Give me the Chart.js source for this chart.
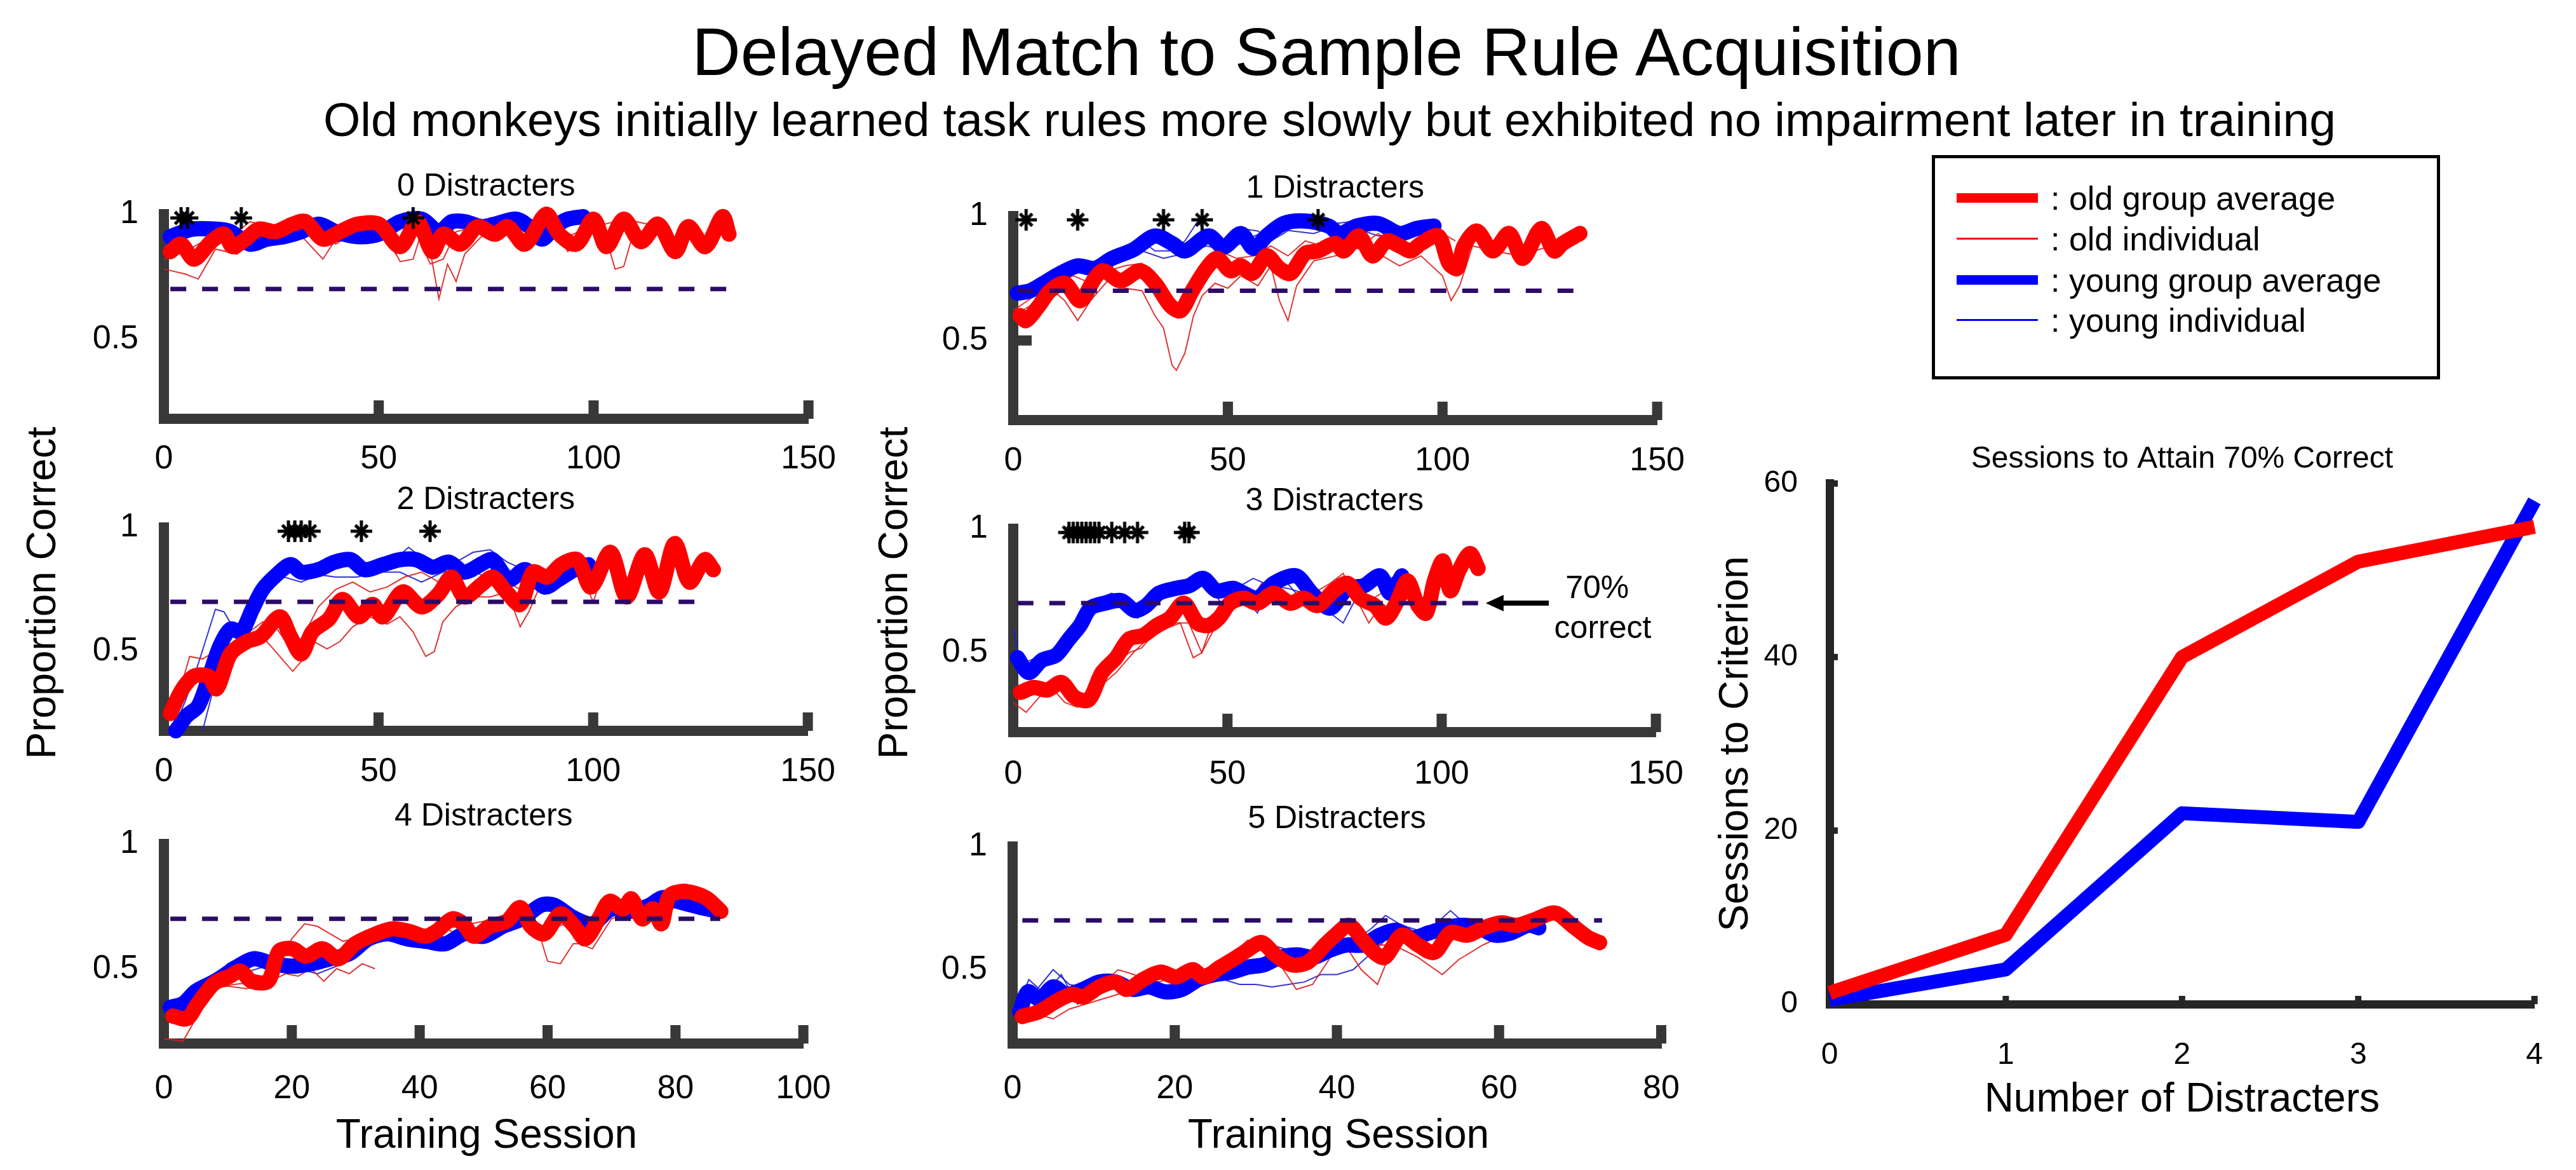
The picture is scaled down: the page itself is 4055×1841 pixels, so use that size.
<!DOCTYPE html>
<html>
<head>
<meta charset="utf-8">
<title>Delayed Match to Sample Rule Acquisition</title>
<script src="https://cdn.jsdelivr.net/npm/chart.js@4.4.1/dist/chart.umd.min.js"></script>
<style>
  html, body { margin: 0; padding: 0; background: #fff; }
  body { position: relative; width: 4055px; height: 1841px; overflow: hidden; font-family: 'Liberation Sans', Arial, sans-serif; color: #000; }
  .txt { position: absolute; white-space: nowrap; line-height: 1; }
  .rot { transform: translate(-50%, -50%) rotate(-90deg); }
  canvas { position: absolute; }
  #legend { position: absolute; left: 3041px; top: 244px; width: 800px; height: 353px; border: 5px solid #000; box-sizing: border-box; }
  .swatch { position: absolute; left: 34px; width: 128px; }
  .lbl { position: absolute; left: 182px; font-size: 52px; line-height: 1; white-space: nowrap; }
</style>
</head>
<body>
<div class="txt" style="left:88px;width:4000px;text-align:center;top:28px;font-size:106px">Delayed Match to Sample Rule Acquisition</div>
<div class="txt" style="left:93px;width:4000px;text-align:center;top:151px;font-size:75px">Old monkeys initially learned task rules more slowly but exhibited no impairment later in training</div>

<div class="txt rot" style="left:65px;top:933px;font-size:64px">Proportion Correct</div>
<div class="txt rot" style="left:1406px;top:933px;font-size:64px">Proportion Correct</div>
<div class="txt" style="left:766px;top:1752px;font-size:64px;transform:translateX(-50%)">Training Session</div>
<div class="txt" style="left:2107px;top:1752px;font-size:64px;transform:translateX(-50%)">Training Session</div>

<div id="legend">
  <div class="swatch" style="top:54.5px;height:15px;background:#ff0000"></div>
  <div class="lbl" style="top:36.5px">: old group average</div>
  <div class="swatch" style="top:124.5px;height:3px;background:#ff0000"></div>
  <div class="lbl" style="top:100.5px">: old individual</div>
  <div class="swatch" style="top:183.5px;height:15px;background:#0000ff"></div>
  <div class="lbl" style="top:165.5px">: young group average</div>
  <div class="swatch" style="top:252.5px;height:3px;background:#0000ff"></div>
  <div class="lbl" style="top:228.5px">: young individual</div>
</div>

<script>
// values: [training session, proportion correct]
const critLevel = 0.7
const starLevel = 0.985

// 0 distracters
const oldAvg0 = [[1.5,0.85],[4,0.88],[7,0.82],[11,0.89],[14,0.92],[16,0.87],[19,0.9],[22,0.94],[26,0.93],[30,0.96],[33,0.97],[37,0.9],[41,0.93],[45,0.96],[50,0.96],[55,0.87],[59,0.97],[62.5,0.85],[65,0.92],[69,0.88],[73,0.95],[77,0.92],[80,0.95],[84,0.88],[89,1.0],[92,0.92],[96,0.88],[100,0.98],[103,0.87],[107,0.98],[111,0.89],[115,0.96],[119,0.85],[122,0.95],[126,0.87],[130,0.99],[131.5,0.92]]
const youngAvg0 = [[1.5,0.91],[6.6,0.94],[12,0.94],[15.5,0.93],[20,0.88],[24,0.9],[28,0.91],[32,0.93],[36,0.96],[40,0.93],[45,0.91],[50,0.92],[55,0.97],[60,0.98],[64,0.93],[67,0.97],[70,0.97],[74,0.95],[77,0.96],[82,0.98],[85,0.95],[88,0.9],[91,0.95],[94,0.98],[97.6,0.99]]
const oldInd0 = [
  [[0,0.78],[5,0.76],[8,0.74],[12,0.86],[17,0.84],[20,0.88],[25,0.93],[30,0.95],[37,0.82],[40,0.9],[45,0.93],[52,0.9],[55,0.81],[58,0.82],[60,0.93],[62,0.85],[64,0.66],[66,0.8],[68,0.73],[70,0.84],[75,0.93],[85,0.92],[90,0.96],[94,0.85],[98,0.92],[102,0.96],[105,0.78],[107,0.79],[110,0.97],[115,0.95],[118,0.91],[124,0.9]],
  [[0,0.82],[5,0.85],[10,0.9],[15,0.9],[20,0.97],[25,0.95],[30,0.97],[35,0.96],[40,0.88],[45,0.94],[50,0.97],[54,0.84],[58,0.95],[62,0.8],[65,0.82],[68,0.93],[75,0.96],[85,0.95],[92,0.9],[100,0.95],[105,0.97],[110,0.94]]
]
const youngInd0 = [
  [[0,0.88],[5,0.92],[10,0.95],[15,0.91],[20,0.93],[25,0.92],[30,0.94],[35,0.93],[40,0.89],[45,0.9],[50,0.94],[55,0.97],[60,0.96],[65,0.95],[70,0.97],[75,0.94],[80,0.96],[85,0.95],[90,0.93],[95,0.96]]
]
const stars0 = [4, 5.5, 18, 58]
const critSpan0 = [1.5, 131]

// 1 distracter
const oldAvg1 = [[1.6,0.6],[3,0.58],[6,0.64],[8.6,0.7],[12,0.73],[15.6,0.66],[19,0.75],[21,0.78],[25,0.74],[29.6,0.78],[33,0.73],[36.6,0.64],[39,0.62],[41.7,0.7],[45,0.79],[47.5,0.83],[50.6,0.78],[53,0.8],[55.7,0.77],[59,0.84],[62,0.79],[64.6,0.77],[68,0.85],[71,0.86],[75,0.89],[77,0.86],[80.5,0.92],[83.7,0.84],[87,0.9],[90,0.88],[92.6,0.86],[95,0.89],[99,0.92],[101.5,0.81],[103.4,0.79],[105,0.88],[108,0.94],[111.7,0.86],[115.5,0.93],[118.7,0.83],[123,0.95],[126,0.86],[128,0.89],[132,0.93]]
const youngAvg1 = [[1,0.69],[4,0.7],[8,0.74],[11,0.77],[15,0.8],[19,0.79],[23,0.83],[28,0.865],[33,0.92],[37,0.89],[40,0.86],[45.5,0.92],[49,0.875],[53,0.93],[56,0.87],[59,0.92],[63,0.97],[68,0.98],[73.5,0.96],[76,0.93],[80,0.96],[85,0.97],[90,0.93],[94,0.95],[98,0.96]]
const oldInd1 = [
  [[0,0.62],[5,0.68],[8,0.72],[12,0.66],[15,0.58],[18,0.66],[22,0.74],[26,0.71],[30,0.7],[33,0.6],[35,0.55],[37,0.4],[38,0.38],[40,0.45],[42,0.6],[44,0.68],[47,0.73],[50,0.71],[53,0.76],[57,0.72],[60,0.8],[62,0.66],[64,0.58],[66,0.72],[70,0.82],[75,0.84],[80,0.87],[85,0.85],[90,0.8],[95,0.84],[100,0.76],[102,0.66],[104,0.72],[107,0.88],[112,0.86],[118,0.84],[125,0.88]],
  [[0,0.6],[5,0.65],[10,0.73],[14,0.76],[18,0.73],[22,0.78],[26,0.8],[30,0.81],[33,0.72],[36,0.62],[40,0.63],[44,0.78],[48,0.86],[52,0.83],[56,0.84],[60,0.88],[64,0.84],[68,0.9],[72,0.88],[76,0.85],[80,0.87],[85,0.93],[90,0.86],[95,0.9],[100,0.93],[103,0.9]]
]
const youngInd1 = [
  [[0,0.68],[5,0.71],[10,0.76],[15,0.8],[20,0.8],[25,0.86],[30,0.9],[33,0.86],[37,0.86],[40,0.9],[43,0.98],[46,0.9],[50,0.9],[53,0.95],[57,0.94],[60,0.9],[63,0.93],[67,0.98],[70,0.97],[75,0.97],[80,0.98],[85,0.95],[90,0.94],[95,0.96],[99,0.98]],
  [[0,0.7],[5,0.72],[10,0.79],[15,0.79],[20,0.82],[25,0.84],[30,0.86],[35,0.83],[40,0.85],[45,0.88],[50,0.86],[55,0.91],[60,0.95],[65,0.94],[70,0.93],[75,0.96],[80,0.95],[85,0.92],[90,0.93],[95,0.95],[99,0.96]]
]
const stars1 = [3, 15, 35, 44, 71]
const critSpan1 = [1, 131]

// 2 distracters
const oldAvg2 = [[1.5,0.25],[4,0.34],[7,0.4],[10.4,0.4],[12.3,0.35],[15.5,0.49],[19.3,0.54],[22.5,0.56],[27,0.64],[29.5,0.56],[32,0.49],[34.6,0.58],[38.4,0.63],[41.6,0.71],[45.4,0.64],[48.6,0.69],[51,0.64],[55.6,0.74],[60,0.68],[63.9,0.73],[67,0.8],[70,0.72],[74,0.77],[76.6,0.8],[79.8,0.74],[83,0.69],[86,0.82],[89.3,0.8],[92.5,0.85],[96.3,0.87],[99.5,0.76],[104,0.9],[107.8,0.72],[112,0.89],[115.4,0.74],[119,0.935],[122.4,0.78],[126,0.87],[128,0.83]]
const youngAvg2 = [[2.8,0.18],[5.3,0.24],[8,0.28],[10.4,0.39],[13,0.52],[15.5,0.59],[18,0.58],[20.6,0.67],[23,0.75],[26.3,0.81],[29.5,0.85],[32,0.82],[36,0.83],[39.7,0.86],[43.5,0.87],[46.7,0.83],[51,0.85],[55,0.87],[58.8,0.87],[62.6,0.84],[66.4,0.86],[70,0.82],[74.7,0.86],[76.6,0.87],[80.4,0.79],[84.2,0.83],[88.7,0.76],[91.9,0.79],[95.7,0.83],[98.9,0.85]]
const oldInd2 = [
  [[1,0.23],[4,0.36],[6,0.48],[9,0.47],[12,0.5],[15,0.5],[18,0.52],[21,0.56],[24,0.54],[27,0.48],[30,0.42],[32,0.46],[35,0.54],[38,0.51],[41,0.54],[44,0.6],[48,0.64],[52,0.61],[55,0.64],[58,0.58],[61,0.48],[63,0.5],[65,0.62],[68,0.68],[72,0.72],[76,0.72],[80,0.74],[83,0.6],[85,0.66],[88,0.78],[92,0.82],[96,0.86],[100,0.7],[102,0.8]],
  [[1,0.26],[4,0.32],[8,0.4],[12,0.45],[16,0.52],[20,0.58],[23,0.62],[26,0.6],[30,0.5],[33,0.58],[36,0.68],[40,0.75],[44,0.78],[48,0.74],[52,0.76],[56,0.8],[60,0.82],[64,0.78],[68,0.76],[72,0.74],[76,0.82],[80,0.78],[84,0.74],[88,0.82],[92,0.84],[96,0.88],[100,0.86]]
]
const youngInd2 = [
  [[2,0.18],[5,0.3],[8,0.45],[10,0.56],[12,0.67],[14,0.66],[16,0.6],[18,0.62],[22,0.76],[25,0.82],[28,0.86],[32,0.84],[36,0.84],[40,0.86],[45,0.84],[50,0.86],[55,0.89],[57,0.92],[60,0.88],[64,0.84],[68,0.86],[72,0.9],[76,0.91],[80,0.86],[84,0.83],[88,0.8],[92,0.82],[96,0.86],[99,0.84]],
  [[9,0.18],[12,0.38],[15,0.5],[18,0.56],[22,0.7],[25,0.78],[28,0.8],[32,0.78],[36,0.81],[40,0.8],[45,0.8],[50,0.82],[55,0.82],[60,0.78],[65,0.82],[70,0.84],[75,0.8],[80,0.82],[85,0.82],[90,0.78],[95,0.82],[99,0.83]]
]
const stars2 = [29, 30.5, 32, 34, 46, 62]
const critSpan2 = [1.5, 124]

// 3 distracters
const oldAvg3 = [[1.7,0.34],[4.8,0.36],[8,0.35],[11.2,0.38],[14.4,0.32],[17.6,0.31],[20.7,0.42],[24,0.48],[27,0.555],[30.3,0.57],[33.5,0.61],[36.6,0.64],[39.8,0.7],[43,0.62],[45.5,0.61],[48,0.64],[50.6,0.7],[53.8,0.72],[57,0.7],[60.8,0.74],[64.6,0.7],[67.8,0.72],[71,0.69],[74.8,0.75],[78,0.78],[81,0.72],[84.4,0.69],[87,0.64],[89.4,0.7],[92,0.79],[94.5,0.69],[96.4,0.66],[98.3,0.79],[100.3,0.87],[102,0.75],[104,0.83],[106.6,0.9],[108.5,0.84]]
const youngAvg3 = [[1,0.48],[3.6,0.42],[6.7,0.47],[10,0.49],[13,0.555],[15.6,0.61],[18,0.68],[21.4,0.7],[25.2,0.71],[28.4,0.67],[31,0.69],[34,0.74],[38,0.76],[41,0.77],[44.3,0.8],[47.5,0.75],[51.3,0.76],[53.8,0.74],[57,0.72],[60.8,0.78],[66,0.81],[69.7,0.74],[74,0.68],[78,0.76],[81.8,0.77],[85.6,0.81],[88,0.74],[90.7,0.81]]
const oldInd3 = [
  [[0,0.3],[3,0.26],[6,0.32],[9,0.36],[12,0.3],[15,0.28],[18,0.32],[21,0.38],[24,0.45],[27,0.5],[30,0.52],[33,0.58],[36,0.6],[39,0.62],[42,0.48],[44,0.5],[46,0.6],[49,0.66],[52,0.7],[55,0.7],[58,0.78],[61,0.72],[64,0.74],[67,0.7],[70,0.74],[74,0.78],[77,0.82],[80,0.72],[83,0.62],[86,0.7],[89,0.66],[92,0.72]],
  [[1,0.36],[4,0.36],[8,0.38],[12,0.34],[16,0.32],[20,0.36],[24,0.42],[28,0.5],[31,0.55],[34,0.58],[38,0.62],[41,0.62],[44,0.5],[47,0.6],[50,0.68],[54,0.72],[58,0.74],[62,0.72],[66,0.7],[70,0.72],[74,0.76],[78,0.74],[82,0.7],[86,0.74],[90,0.72]]
]
const youngInd3 = [
  [[0,0.6],[2,0.42],[5,0.44],[8,0.48],[11,0.5],[14,0.58],[17,0.65],[20,0.72],[23,0.74],[26,0.7],[29,0.64],[32,0.72],[35,0.76],[38,0.74],[41,0.8],[44,0.82],[47,0.74],[50,0.66],[53,0.74],[57,0.66],[60,0.78],[63,0.8],[66,0.74],[70,0.76],[74,0.66],[77,0.62],[80,0.72],[84,0.78],[88,0.8],[91,0.82]],
  [[1,0.45],[4,0.47],[8,0.5],[12,0.52],[16,0.62],[20,0.7],[24,0.72],[28,0.68],[32,0.7],[36,0.74],[40,0.76],[44,0.78],[48,0.76],[52,0.76],[56,0.8],[60,0.77],[64,0.76],[68,0.74],[72,0.72],[76,0.74],[80,0.76],[85,0.78],[90,0.8]]
]
const stars3 = [13, 14, 15, 16, 17, 18, 19, 20, 23, 26, 29, 40, 41]
const critSpan3 = [1, 109]

// 4 distracters
const oldAvg4 = [[1.4,0.31],[3.6,0.3],[5.3,0.36],[7.8,0.44],[10.3,0.47],[12,0.49],[13.7,0.45],[16.3,0.45],[18,0.57],[20.1,0.58],[22.2,0.55],[24.8,0.58],[27.3,0.54],[29.9,0.6],[33.2,0.64],[35.8,0.66],[38.3,0.65],[40.9,0.63],[42.6,0.65],[45.1,0.7],[46.8,0.68],[48.5,0.63],[51,0.67],[53.6,0.69],[55.7,0.745],[57.4,0.67],[59.5,0.64],[62,0.72],[64.2,0.67],[65.9,0.62],[68,0.7],[69.7,0.77],[71.8,0.74],[73.1,0.78],[74.8,0.7],[76.5,0.74],[77.8,0.68],[79,0.79],[81.2,0.81],[83.3,0.8],[85,0.78],[87.1,0.73]]
const youngAvg4 = [[1,0.345],[3,0.36],[5,0.41],[8,0.45],[11,0.5],[14,0.54],[17,0.52],[20,0.51],[23,0.52],[26,0.54],[29,0.56],[32,0.62],[35,0.64],[38,0.62],[41,0.61],[44,0.6],[47,0.64],[50,0.63],[53,0.67],[56,0.7],[59,0.755],[61,0.755],[64,0.705],[67,0.68],[70,0.74],[73,0.73],[76,0.755],[78,0.785],[81,0.765],[84,0.745],[86,0.735]]
const oldInd4 = [
  [[0,0.22],[3,0.21],[5,0.3],[7,0.4],[9,0.43],[12,0.44],[15,0.44],[18,0.52],[20,0.62],[22,0.68],[24,0.67],[26,0.64],[28,0.61],[30,0.62],[33,0.65],[36,0.64],[40,0.62],[44,0.66],[48,0.68],[52,0.7],[56,0.72],[58,0.7],[60,0.53],[62,0.52],[64,0.6],[66,0.6],[68,0.66],[70,0.72]],
  [[1,0.36],[4,0.38],[7,0.42],[10,0.43],[13,0.42],[16,0.44],[19,0.48],[21,0.47],[23,0.5],[25,0.45],[27,0.5],[29,0.48],[31,0.52],[33,0.5]],
  [[44,0.66],[46,0.64],[48,0.61],[50,0.64],[53,0.67],[56,0.72],[60,0.66],[63,0.68],[65,0.6],[67,0.58],[70,0.7],[74,0.74],[78,0.7],[82,0.8]]
]
const youngInd4 = [
  [[1,0.34],[4,0.38],[7,0.44],[10,0.52],[13,0.56],[15,0.54],[18,0.52],[21,0.5],[24,0.48],[26,0.5],[28,0.52],[30,0.56],[33,0.62],[36,0.64],[40,0.62],[44,0.62],[48,0.64],[52,0.66],[56,0.7],[60,0.74],[62,0.76],[66,0.7],[70,0.72],[75,0.76],[80,0.78],[85,0.76]],
  [[1,0.32],[4,0.36],[8,0.42],[12,0.48],[16,0.51],[20,0.52],[24,0.52],[28,0.55],[32,0.6],[36,0.62],[40,0.6],[44,0.62],[48,0.62],[52,0.66],[56,0.7],[60,0.74],[64,0.71],[68,0.7],[72,0.72],[76,0.74],[80,0.76],[84,0.74]]
]
const stars4 = []
const critSpan4 = [1, 87]

// 5 distracters
const oldAvg5 = [[1.2,0.31],[3.3,0.33],[5.3,0.37],[7.3,0.4],[8.7,0.39],[10.7,0.43],[12.7,0.45],[14.1,0.42],[16.1,0.46],[18.2,0.49],[20.2,0.47],[22.2,0.5],[23.6,0.47],[25.6,0.51],[27.6,0.55],[29,0.58],[30.7,0.61],[32.4,0.56],[34.4,0.52],[36.4,0.53],[38.5,0.6],[39.8,0.64],[41.5,0.68],[43.2,0.62],[44.6,0.57],[45.9,0.55],[48,0.64],[50,0.6],[52,0.57],[54,0.65],[56.1,0.64],[58.1,0.67],[60.2,0.69],[62.2,0.68],[64.2,0.7],[66.9,0.73],[69,0.68],[71,0.63],[72.4,0.61]]
const youngAvg5 = [[0.9,0.33],[1.9,0.41],[3.3,0.38],[5,0.43],[6.6,0.4],[8.7,0.42],[10.7,0.45],[12.7,0.45],[14.8,0.42],[16.8,0.43],[18.8,0.41],[20.9,0.42],[22.9,0.46],[24.9,0.48],[27,0.49],[29,0.51],[31,0.52],[33,0.55],[35.1,0.56],[37.1,0.55],[39.2,0.58],[41.2,0.6],[43.2,0.6],[45.3,0.64],[47.3,0.66],[49.3,0.63],[51.4,0.65],[53.4,0.67],[55.4,0.68],[57.5,0.67],[59.5,0.64],[61.5,0.65],[63.6,0.68],[64.9,0.67]]
const oldInd5 = [
  [[1,0.32],[3,0.36],[5,0.34],[7,0.42],[9,0.4],[11,0.44],[13,0.5],[15,0.48],[17,0.44],[19,0.46],[21,0.5],[23,0.5],[25,0.48],[27,0.56],[29,0.62],[31,0.6],[33,0.52],[35,0.42],[37,0.44],[39,0.54],[41,0.66],[43,0.62],[45,0.6],[47,0.6],[49,0.62],[51,0.64],[53,0.66],[55,0.68]],
  [[1,0.3],[3,0.32],[5,0.3],[7,0.34],[9,0.36],[11,0.38],[13,0.4],[15,0.44],[17,0.46],[19,0.48],[21,0.5],[23,0.48],[25,0.5],[27,0.54],[29,0.58],[31,0.6],[33,0.56],[35,0.5],[37,0.52],[39,0.58],[41,0.6],[43,0.5],[45,0.44],[47,0.6],[50,0.55],[53,0.48],[55,0.54],[58,0.6],[62,0.66]]
]
const youngInd5 = [
  [[1,0.38],[2,0.46],[4,0.4],[6,0.48],[8,0.36],[10,0.42],[12,0.44],[14,0.45],[17,0.42],[20,0.4],[22,0.44],[24,0.5],[26,0.46],[28,0.44],[30,0.44],[32,0.43],[34,0.44],[36,0.45],[38,0.48],[40,0.48],[42,0.5],[44,0.56],[46,0.62],[48,0.64],[50,0.64],[52,0.68],[54,0.74],[56,0.68],[58,0.66],[60,0.62],[62,0.64],[64,0.66]],
  [[1,0.36],[3,0.42],[5,0.5],[7,0.44],[10,0.42],[13,0.44],[16,0.46],[19,0.48],[22,0.48],[25,0.52],[28,0.56],[30,0.58],[32,0.6],[34,0.58],[36,0.56],[38,0.58],[40,0.62],[42,0.62],[44,0.66],[46,0.72],[48,0.68],[50,0.66],[52,0.68],[54,0.7],[56,0.68],[58,0.7],[60,0.66],[62,0.68],[64,0.66]]
]
const stars5 = []
const critSpan5 = [1.2, 72.7]

// sessions to attain 70% correct
const nDistracters = [0, 1, 2, 3, 4]
const oldToCriterion = [1.3, 8, 40, 51, 55]
const youngToCriterion = [0.5, 4, 22, 21, 58]

const yTickVals = [0.5, 1]
const yTickText = ['0.5', '1']
const criterionYTicks = [0, 20, 40, 60]

// ---- drawing ----
const fontFam = "'Liberation Sans', Arial, sans-serif"
Chart.defaults.font.family = fontFam
Chart.defaults.color = '#000'
const axisGrey = '#383838'

// matlab style '*' marker (plus and cross on top of each other)
function asterisk(size, lw) {
  const c = document.createElement('canvas')
  c.width = size
  c.height = size
  const g = c.getContext('2d')
  const r = size / 2 - 1
  g.strokeStyle = '#000'
  g.lineWidth = lw
  g.translate(size / 2, size / 2)
  for (let k = 0; k < 4; k++) {
    const a = k * Math.PI / 4
    const rr = k % 2 ? r * 0.8 : r
    g.beginPath()
    g.moveTo(Math.cos(a) * rr, Math.sin(a) * rr)
    g.lineTo(-Math.cos(a) * rr, -Math.sin(a) * rr)
    g.stroke()
  }
  return c
}
const starMark = asterisk(36, 5)

// tick marks pointing into the plot
const inTicks = {
  id: 'inTicks',
  beforeDatasetsDraw(chart, args, o) {
    const { ctx, chartArea: a, scales } = chart
    ctx.save()
    ctx.fillStyle = o.color
    o.x.forEach(v => {
      const px = scales.x.getPixelForValue(v)
      ctx.fillRect(px - o.w / 2, a.bottom - o.len, o.w, o.len)
    })
    o.y.forEach(v => {
      const py = scales.y.getPixelForValue(v)
      ctx.fillRect(a.left, py - o.w / 2, o.len, o.w)
    })
    ctx.restore()
  }
}

// "70% correct" arrow in the 3 distracter panel
const note70 = {
  id: 'note70',
  afterDraw(chart, args, o) {
    const { ctx, scales: { x, y } } = chart
    const yp = y.getPixelForValue(o.level)
    const tip = x.getPixelForValue(o.tip)
    const tail = x.getPixelForValue(o.tail)
    ctx.save()
    ctx.fillStyle = '#000'
    ctx.strokeStyle = '#000'
    ctx.lineWidth = 8
    ctx.beginPath()
    ctx.moveTo(tail, yp)
    ctx.lineTo(tip + 20, yp)
    ctx.stroke()
    ctx.beginPath()
    ctx.moveTo(tip, yp)
    ctx.lineTo(tip + 28, yp - 13)
    ctx.lineTo(tip + 28, yp + 13)
    ctx.closePath()
    ctx.fill()
    ctx.font = '50px ' + fontFam
    ctx.textAlign = 'center'
    ctx.textBaseline = 'middle'
    o.lines.forEach((t, i) => ctx.fillText(t, x.getPixelForValue(o.textX[i]), y.getPixelForValue(o.textY[i])))
    ctx.restore()
  }
}

const pts = arr => arr.map(([x, y]) => ({ x, y }))

function learningPanel(p) {
  const yw = 110, padR = 70, xh = 110, tTop = 4, tBot = 13
  const titleH = 50 * 1.2 + tTop + tBot
  const cv = document.createElement('canvas')
  cv.width = yw + p.box.r - p.box.l + padR
  cv.height = titleH + p.box.b - p.box.t + xh
  cv.style.left = (p.box.l - yw) + 'px'
  cv.style.top = (p.box.t - titleH) + 'px'
  document.body.appendChild(cv)

  const datasets = []
  if (p.stars.length) {
    datasets.push({ data: p.stars.map(s => ({ x: s, y: starLevel })), showLine: false, pointStyle: starMark, pointRadius: 18 })
  }
  datasets.push({ data: [{ x: p.span[0], y: critLevel }, { x: p.span[1], y: critLevel }], borderColor: '#2c0b66', borderWidth: 7, borderDash: [25, 25], pointRadius: 0 })
  datasets.push({ data: pts(p.old), borderColor: '#ff0000', borderWidth: 24, tension: 0.3, pointRadius: 0, borderJoinStyle: 'round', borderCapStyle: 'round' })
  datasets.push({ data: pts(p.young), borderColor: '#0000ff', borderWidth: 24, tension: 0.3, pointRadius: 0, borderJoinStyle: 'round', borderCapStyle: 'round' })
  p.oldInd.forEach(s => datasets.push({ data: pts(s), borderColor: 'rgba(220,30,30,0.9)', borderWidth: 2, pointRadius: 0 }))
  p.youngInd.forEach(s => datasets.push({ data: pts(s), borderColor: 'rgba(30,30,210,0.9)', borderWidth: 2, pointRadius: 0 }))
  datasets.forEach(d => { d.clip = false })

  const xMarks = []
  for (let v = p.xStep; v <= p.xMax; v += p.xStep) xMarks.push(v)

  new Chart(cv, {
    type: 'line',
    data: { datasets },
    plugins: p.note ? [inTicks, note70] : [inTicks],
    options: {
      responsive: false,
      animation: false,
      devicePixelRatio: 1,
      events: [],
      layout: { padding: { left: 0, right: padR, top: 0, bottom: 0 } },
      plugins: {
        legend: { display: false },
        tooltip: { enabled: false },
        title: { display: true, text: p.title, fullSize: false, color: '#000', font: { size: 50, weight: 'normal' }, padding: { top: tTop, bottom: tBot } },
        inTicks: { x: xMarks, y: p.yMarks || [], len: 29, w: 16, color: axisGrey },
        note70: p.note || {}
      },
      scales: {
        x: {
          type: 'linear', min: 0, max: p.xMax,
          ticks: { stepSize: p.xStep, font: { size: 52 }, padding: p.xPad, maxRotation: 0, autoSkip: false },
          grid: { display: false, drawTicks: false },
          border: { color: axisGrey, width: 16 },
          afterFit: s => { s.height = xh }
        },
        y: {
          min: p.yMin, max: 1,
          afterBuildTicks: s => { s.ticks = yTickVals.map(v => ({ value: v })) },
          ticks: { font: { size: 52 }, padding: 40, callback: v => yTickText[yTickVals.indexOf(v)] },
          grid: { display: false, drawTicks: false },
          border: { color: axisGrey, width: 16 },
          afterFit: s => { s.width = yw }
        }
      }
    }
  })
}

const panels = [
  { title: '0 Distracters', box: { l: 258, t: 337, r: 1278, b: 659 }, yMin: 0.18, xMax: 150, xStep: 50, xPad: 32,
    old: oldAvg0, young: youngAvg0, oldInd: oldInd0, youngInd: youngInd0, stars: stars0, span: critSpan0 },
  { title: '1 Distracters', box: { l: 1595, t: 340, r: 2615, b: 661 }, yMin: 0.18, xMax: 150, xStep: 50, xPad: 33, yMarks: [0.5],
    old: oldAvg1, young: youngAvg1, oldInd: oldInd1, youngInd: youngInd1, stars: stars1, span: critSpan1 },
  { title: '2 Distracters', box: { l: 258, t: 830, r: 1278, b: 1150 }, yMin: 0.18, xMax: 150, xStep: 50, xPad: 33,
    old: oldAvg2, young: youngAvg2, oldInd: oldInd2, youngInd: youngInd2, stars: stars2, span: critSpan2 },
  { title: '3 Distracters', box: { l: 1595, t: 832, r: 2615, b: 1152 }, yMin: 0.18, xMax: 150, xStep: 50, xPad: 35,
    old: oldAvg3, young: youngAvg3, oldInd: oldInd3, youngInd: youngInd3, stars: stars3, span: critSpan3,
    note: { level: critLevel, tip: 110.3, tail: 125, lines: ['70%', 'correct'], textX: [136.3, 137.6], textY: [0.756, 0.595] } },
  { title: '4 Distracters', box: { l: 258, t: 1328, r: 1278, b: 1642 }, yMin: 0.2, xMax: 100, xStep: 20, xPad: 40,
    old: oldAvg4, young: youngAvg4, oldInd: oldInd4, youngInd: youngInd4, stars: stars4, span: critSpan4 },
  { title: '5 Distracters', box: { l: 1594, t: 1332, r: 2615, b: 1642 }, yMin: 0.2, xMax: 80, xStep: 20, xPad: 40,
    old: oldAvg5, young: youngAvg5, oldInd: oldInd5, youngInd: youngInd5, stars: stars5, span: critSpan5 }
]
panels.forEach(learningPanel)

// sessions to criterion panel
;(function () {
  const box = { l: 2880, t: 755, r: 4018, b: 1580 }
  const yw = 200, padR = 37, xh = 198, tTop = 6, tBot = 9
  const titleH = 48 * 1.2 + tTop + tBot
  const cv = document.createElement('canvas')
  cv.width = yw + box.r - box.l + padR
  cv.height = Math.round(titleH + box.b - box.t + xh)
  cv.style.left = (box.l - yw) + 'px'
  cv.style.top = (box.t - titleH) + 'px'
  document.body.appendChild(cv)
  const crit = '#262626'

  new Chart(cv, {
    type: 'line',
    data: {
      labels: nDistracters,
      datasets: [
        { data: nDistracters.map((d, i) => ({ x: d, y: oldToCriterion[i] })), borderColor: '#ff0000', borderWidth: 22, pointRadius: 0, borderJoinStyle: 'round', clip: false },
        { data: nDistracters.map((d, i) => ({ x: d, y: youngToCriterion[i] })), borderColor: '#0000ff', borderWidth: 22, pointRadius: 0, borderJoinStyle: 'round', clip: false }
      ]
    },
    plugins: [inTicks],
    options: {
      responsive: false,
      animation: false,
      devicePixelRatio: 1,
      events: [],
      layout: { padding: { left: 0, right: padR, top: 0, bottom: 0 } },
      plugins: {
        legend: { display: false },
        tooltip: { enabled: false },
        title: { display: true, text: 'Sessions to Attain 70% Correct', fullSize: false, color: '#000', font: { size: 48, weight: 'normal' }, padding: { top: tTop, bottom: tBot } },
        inTicks: { x: [1, 2, 3, 4], y: [20, 40, 60], len: 13, w: 10, color: crit }
      },
      scales: {
        x: {
          type: 'linear', min: 0, max: 4,
          ticks: { stepSize: 1, font: { size: 48 }, padding: 52, maxRotation: 0 },
          grid: { display: false, drawTicks: false },
          border: { color: crit, width: 13 },
          title: { display: true, text: 'Number of Distracters', color: '#000', font: { size: 64 }, padding: { top: 0, bottom: 8 } },
          afterFit: s => { s.height = xh }
        },
        y: {
          min: 0, max: 60,
          afterBuildTicks: s => { s.ticks = criterionYTicks.map(v => ({ value: v })) },
          ticks: { font: { size: 48 }, padding: 50 },
          grid: { display: false, drawTicks: false },
          border: { color: crit, width: 13 },
          title: { display: true, text: 'Sessions to Criterion', color: '#000', font: { size: 64 }, padding: { top: 15, bottom: 0 } },
          afterFit: s => { s.width = yw }
        }
      }
    }
  })
})()
</script>
</body>
</html>
